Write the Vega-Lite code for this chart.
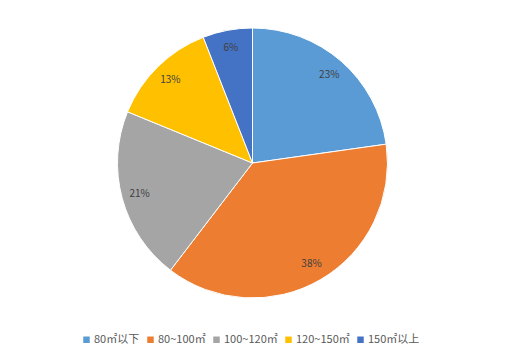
{
  "$schema": "https://vega.github.io/schema/vega-lite/v6.json",
  "width": 505,
  "height": 326,
  "autosize": "none",
  "padding": {"left": 0, "top": 0, "right": 2, "bottom": 26},
  "background": "white",
  "data": {"values": [
    {"idx": 1, "cat": "80㎡以下", "pct": 23},
    {"idx": 2, "cat": "80~100㎡", "pct": 38},
    {"idx": 3, "cat": "100~120㎡", "pct": 21},
    {"idx": 4, "cat": "120~150㎡", "pct": 13},
    {"idx": 5, "cat": "150㎡以上", "pct": 6}
  ]},
  "encoding": {
    "theta": {"field": "pct", "type": "quantitative", "stack": true},
    "order": {"field": "idx", "type": "quantitative"}
  },
  "layer": [
    {
      "mark": {"type": "arc", "outerRadius": 135, "stroke": "white", "strokeWidth": 1},
      "encoding": {
        "color": {
          "field": "cat", "type": "nominal",
          "sort": ["80㎡以下", "80~100㎡", "100~120㎡", "120~150㎡", "150㎡以上"],
          "scale": {
            "domain": ["80㎡以下", "80~100㎡", "100~120㎡", "120~150㎡", "150㎡以上"],
            "range": ["#5B9BD5", "#ED7D31", "#A5A5A5", "#FFC000", "#4472C4"]
          },
          "legend": {
            "title": null,
            "orient": "none",
            "direction": "horizontal",
            "legendX": 81,
            "legendY": 334,
            "symbolType": "square",
            "symbolSize": 42,
            "symbolStrokeWidth": 0,
            "labelFont": "Noto Sans CJK SC",
            "labelFontSize": 11,
            "labelColor": "#595959",
            "columnPadding": 5,
            "symbolOffset": 0,
            "labelOffset": 2
          }
        }
      }
    },
    {
      "mark": {"type": "text", "radius": 117, "font": "Noto Sans CJK SC", "fontSize": 10, "fill": "#404040"},
      "encoding": {
        "text": {"field": "label", "type": "nominal"}
      },
      "transform": [{"calculate": "datum.pct + '%'", "as": "label"}]
    }
  ],
  "config": {"view": {"stroke": null}}
}
